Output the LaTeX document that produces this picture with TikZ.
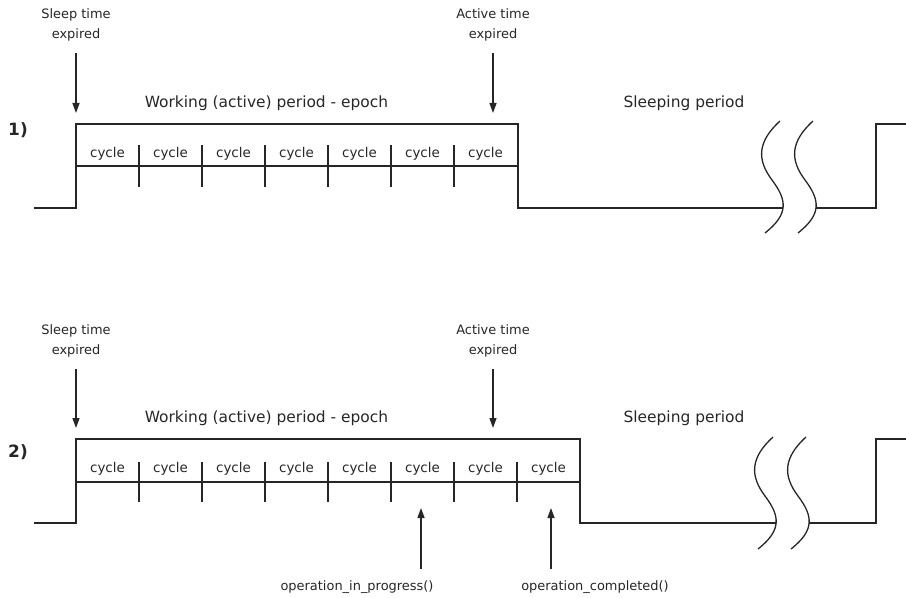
\documentclass[tikz,border=0pt]{standalone}
\usepackage{fontspec}
\setmainfont{DejaVu Sans}
\usetikzlibrary{arrows.meta,calc}
\begin{document}
\begin{tikzpicture}[x=1bp,y=-1bp,
  wave/.style={line width=1.5bp, line join=miter, color=black!85},
  arr/.style={line width=1.3bp, color=black!85, -{Triangle[length=10bp,width=7bp]}},
  lbl/.style={font=\fontsize{13}{20}\selectfont, align=center, inner sep=0pt, text=black!85},
  hdr/.style={font=\fontsize{15.5}{18}\selectfont, inner sep=0pt, text=black!85},
  cyc/.style={font=\fontsize{13.5}{16}\selectfont, inner sep=0pt, text=black!85},
  num/.style={font=\fontsize{17}{20}\selectfont\bfseries, inner sep=0pt, text=black!85},
  brk/.style={line width=1.3bp, color=black!85}
]
\useasboundingbox (0,0) rectangle (906,598);

% ---------------- Diagram 1 ----------------
\coordinate (l1a) at (34,208);
\coordinate (r1b) at (76,208);
\coordinate (r1t) at (76,124);
\coordinate (at1t) at (493,124);
\coordinate (f1t) at (518,124);
\coordinate (f1b) at (518,208);
\coordinate (w1a) at (783,208);
\coordinate (w1b) at (816,208);
\coordinate (u1b) at (876,208);
\coordinate (u1t) at (876,124);
\coordinate (e1) at (906,124);
\coordinate (m1a) at (76,166);
\coordinate (m1b) at (518,166);

\draw[wave] (l1a) -- (r1b) -- (r1t) -- (f1t) -- (f1b) -- (w1a);
\draw[wave] (w1b) -- (u1b) -- (u1t) -- (e1);
\draw[wave] (m1a) -- (m1b);
\foreach \i in {1,...,6} \draw[wave] ({76+63*\i},145) -- ({76+63*\i},187);
\foreach \i in {0,...,6} \node[cyc] (c1\i) at ({107.5+63*\i},154) {cycle};
\foreach \dx in {0,33}
  \draw[brk, shift={(\dx,0)}] (780,121) .. controls (757,142) and (757,160) .. (772,180)
        .. controls (787,200) and (789,214) .. (765,233);

\node[num] (n1) at (18,130) {1)};
\node[lbl] (st1) at (76,25) {Sleep time\\expired};
\node[lbl] (at1) at (493,25) {Active time\\expired};
\node[hdr] (wk1) at (266.5,103) {Working (active) period - epoch};
\node[hdr] (sp1) at (684,103) {Sleeping period};
\draw[arr, shorten >=11bp] (st1.south) ++(0,11.5) -- (r1t);
\draw[arr, shorten >=11bp] (at1.south) ++(0,11.5) -- (at1t);

% ---------------- Diagram 2 ----------------
\coordinate (l2a) at (34,523);
\coordinate (r2b) at (76,523);
\coordinate (r2t) at (76,439);
\coordinate (at2t) at (493,439);
\coordinate (f2t) at (580,439);
\coordinate (f2b) at (580,523);
\coordinate (w2a) at (776,523);
\coordinate (w2b) at (809,523);
\coordinate (u2b) at (876,523);
\coordinate (u2t) at (876,439);
\coordinate (e2) at (906,439);
\coordinate (m2a) at (76,482);
\coordinate (m2b) at (580,482);

\draw[wave] (l2a) -- (r2b) -- (r2t) -- (f2t) -- (f2b) -- (w2a);
\draw[wave] (w2b) -- (u2b) -- (u2t) -- (e2);
\draw[wave] (m2a) -- (m2b);
\foreach \i in {1,...,7} \draw[wave] ({76+63*\i},462) -- ({76+63*\i},502);
\foreach \i in {0,...,7} \node[cyc] (c2\i) at ({107.5+63*\i},469) {cycle};
\foreach \dx in {-7,26}
  \draw[brk, shift={(\dx,316)}] (780,121) .. controls (757,142) and (757,160) .. (772,180)
        .. controls (787,200) and (789,214) .. (765,233);

\node[num] (n2) at (18,452) {2)};
\node[lbl] (st2) at (76,341) {Sleep time\\expired};
\node[lbl] (at2) at (493,341) {Active time\\expired};
\node[hdr] (wk2) at (266.5,418) {Working (active) period - epoch};
\node[hdr] (sp2) at (684,418) {Sleeping period};
\draw[arr, shorten >=11bp] (st2.south) ++(0,11.5) -- (r2t);
\draw[arr, shorten >=11bp] (at2.south) ++(0,11.5) -- (at2t);

\node[lbl] (op1) at (357,587) {operation\_in\_progress()};
\node[lbl] (op2) at (595,587) {operation\_completed()};
\coordinate (ip) at (421,508);
\coordinate (cp) at (551,508);
\draw[arr] (op1.north -| ip) ++(0,-11) -- (ip);
\draw[arr] (op2.north -| cp) ++(0,-11) -- (cp);
\end{tikzpicture}
\end{document}
